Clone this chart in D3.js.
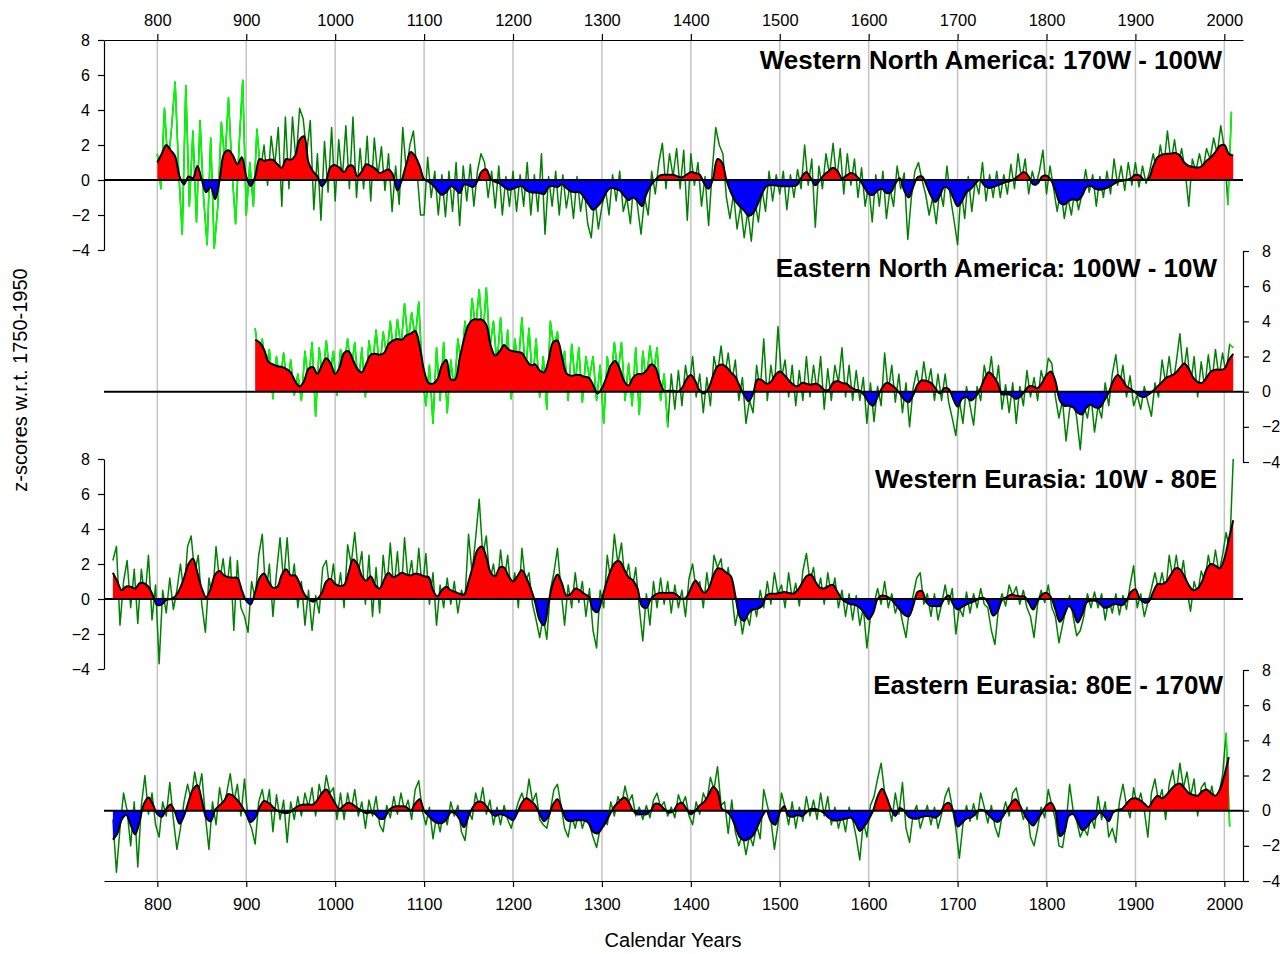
<!DOCTYPE html>
<html><head><meta charset="utf-8">
<script src="https://cdn.jsdelivr.net/npm/d3@7"></script>
<style>
body{margin:0;background:#fff}
svg{display:block}
text{font-family:"Liberation Sans",Arial,Helvetica,sans-serif}
</style>
</head><body>
<svg id="c" width="1280" height="954"></svg>
<script>
// ---------- tick labels / titles ----------
const xTicks = [800,900,1000,1100,1200,1300,1400,1500,1600,1700,1800,1900,2000];
const yTicks = [-4,-2,0,2,4,6,8];
const panelTitles = ["Western North America: 170W - 100W","Eastern North America: 100W - 10W","Western Eurasia: 10W - 80E","Eastern Eurasia: 80E - 170W"];
const xTitle = "Calendar Years";
const yTitle = "z-scores w.r.t. 1750-1950";

// ---------- Western North America ----------
const wnaSmoothStart = 800, smoothStep = 5;
const wnaSmooth = [1.0,1.5,2.0,1.7,1.35,0.2,-0.25,0.2,0.1,0.8,0.0,-0.7,-0.4,-1.1,0.0,1.5,1.7,1.4,0.9,1.3,
0.2,-0.35,0.2,1.2,1.1,1.15,1.15,0.9,0.7,1.2,1.15,1.4,2.3,2.5,1.0,0.5,0.2,-0.35,0.0,0.75,
0.85,0.7,0.45,0.8,0.8,0.2,0.5,0.9,0.8,0.65,0.4,0.5,0.6,0.3,-0.6,0.0,0.9,1.6,1.35,0.8,
0.05,-0.1,-0.3,-0.6,-0.85,-0.7,-0.35,-0.5,-0.75,-0.25,-0.3,-0.4,-0.05,0.5,0.6,0.05,-0.1,-0.2,-0.4,-0.55,
-0.5,-0.4,-0.35,-0.6,-0.7,-0.72,-0.75,-0.8,-0.4,-0.35,-0.4,-0.25,-0.45,-0.65,-0.7,-0.7,-1.0,-1.4,-1.7,-1.5,
-1.2,-0.7,-0.45,-0.5,-0.6,-0.9,-1.15,-1.0,-1.2,-1.5,-0.8,-0.3,0.0,0.25,0.3,0.3,0.3,0.2,0.15,0.3,
0.45,0.4,0.3,-0.2,-0.5,0.1,1.2,1.0,0.0,-0.7,-1.2,-1.5,-1.75,-2.05,-1.9,-1.4,-0.8,-0.35,-0.3,-0.3,
-0.35,-0.35,-0.35,-0.35,-0.25,0.2,0.45,0.1,-0.3,0.0,0.3,0.5,0.7,0.5,0.1,0.25,0.4,0.3,0.0,-0.4,
-0.8,-0.85,-0.6,-0.5,-0.75,-0.7,-0.2,0.1,-0.6,-1.0,-0.4,0.15,0.2,-0.3,-0.9,-1.25,-0.9,-0.4,-0.5,-1.0,
-1.5,-1.2,-0.7,-0.5,-0.2,0.0,-0.3,-0.45,-0.4,-0.3,-0.2,-0.1,-0.05,0.1,0.3,0.45,0.2,-0.25,-0.2,0.2,
0.25,0.0,-0.6,-1.3,-1.4,-1.2,-1.1,-1.15,-0.9,-0.4,-0.35,-0.5,-0.55,-0.5,-0.4,-0.25,-0.1,-0.05,0.0,0.1,
0.3,0.25,0.0,0.1,0.8,1.3,1.45,1.5,1.5,1.55,1.4,1.0,0.8,0.75,0.7,0.8,1.1,1.3,1.6,1.95,
2.0,1.5,1.4];
const wnaAnnualStart = 800, annualStep = 4;
const wnaAnnual = [1.5,-0.5,4.1,0.8,3.0,5.6,0.5,-3.1,5.4,-1.5,2.8,-2.4,3.4,-1.0,-3.7,2.4,-3.9,-1.5,3.3,1.0,4.7,0.5,-2.5,2.0,5.7,
-2.0,1.0,-1.5,2.9,0.5,2.0,-0.3,2.5,0.8,3.0,-1.5,3.6,-0.5,3.6,1.0,4.1,3.5,1.5,3.4,-1.7,1.5,-2.3,2.2,-0.7,3.0,
-1.2,2.3,0.0,3.1,-0.5,3.6,-1.0,1.8,-0.5,2.5,-1.2,2.4,0.2,1.9,-0.6,1.5,-1.8,0.8,-1.4,3.0,0.5,2.0,2.8,0.5,-2.0,
-2.0,1.3,-1.0,0.5,-2.0,0.3,-2.1,0.5,-1.8,1.0,-2.6,0.8,-1.2,0.9,-1.5,0.5,1.5,1.0,-1.0,0.5,-1.6,0.8,-2.0,0.2,-1.5,
0.5,-1.8,0.3,-1.5,1.0,-2.0,0.3,-1.8,1.5,-3.1,0.2,-1.5,0.5,-2.0,0.3,-1.6,-0.3,-2.2,0.2,-1.8,-0.5,-2.5,-3.3,-1.0,-2.8,
-1.5,-0.5,-2.0,0.3,-1.2,0.5,-1.8,-1.0,-2.5,0.0,-1.5,-3.1,-1.0,-2.0,0.5,-0.8,1.0,2.1,-0.5,1.5,0.2,1.8,-0.5,1.7,-2.3,
1.5,-0.3,1.0,-1.5,0.2,-2.6,0.5,3.0,2.0,1.5,-1.0,-2.2,-0.8,-2.8,-1.5,-3.3,-1.8,-3.5,-1.2,-2.4,-0.5,-1.8,0.5,-1.2,0.3,
-0.8,0.5,-1.7,0.3,-1.0,0.6,-0.5,2.0,-0.3,1.2,-2.7,0.8,-0.5,1.5,0.3,2.1,0.0,1.8,-0.8,1.5,-0.3,1.2,-1.0,0.7,-1.5,
-0.3,-2.4,0.3,-1.5,0.5,-2.2,-0.5,-1.5,0.8,-0.5,0.4,-3.4,-1.0,0.5,1.0,0.0,-0.8,-2.0,-1.0,-2.5,-0.5,-1.5,0.8,-1.0,-2.3,
-3.7,-0.5,-2.2,0.2,-1.8,0.0,-0.8,1.0,-1.2,0.3,-1.0,0.5,-1.0,0.3,-0.8,0.9,-0.5,1.5,0.0,1.2,-0.8,0.5,-0.3,0.5,1.7,
-0.8,0.8,-0.5,-1.8,-0.5,-2.2,-1.0,-2.0,-0.5,-1.7,-0.8,0.6,-0.7,0.3,-1.5,0.2,-1.0,0.5,-0.8,1.2,-0.3,0.8,-0.6,1.0,-0.3,
1.0,-0.4,0.8,-0.2,0.5,1.5,0.5,2.0,0.8,2.8,1.0,2.3,0.8,1.8,0.5,-1.5,1.2,0.5,1.5,0.6,1.8,1.2,2.4,1.5,3.1,
1.8,-1.4,3.9];
const wnaLimeSpans = [[800,912],[2005,2010]];

// ---------- Eastern North America ----------
const enaSmoothStart = 910;
const enaSmooth = [2.95,2.8,2.4,1.7,1.55,1.45,1.4,1.3,1.1,0.6,0.3,0.6,1.3,1.4,1.0,1.5,1.9,1.6,1.0,1.4,
2.2,2.3,1.8,1.3,1.1,1.6,2.1,2.15,2.1,2.2,2.7,2.9,3.0,2.95,3.2,3.3,3.45,2.6,1.2,0.5,
0.45,0.7,1.5,1.8,0.7,0.7,1.9,3.0,3.8,4.1,4.1,4.1,3.8,2.6,2.05,2.3,2.65,2.4,2.3,2.25,
2.2,1.8,1.5,1.55,1.2,1.1,1.8,2.8,2.9,2.0,1.05,0.9,0.95,0.95,0.85,0.8,0.4,-0.1,0.2,0.8,
1.5,1.75,1.3,0.6,0.35,0.8,1.0,1.0,1.2,1.55,1.4,0.6,0.05,0.05,0.05,0.0,0.2,0.7,0.95,0.6,
0.05,-0.1,0.2,0.9,1.45,1.55,1.4,1.1,0.85,0.3,-0.2,-0.55,-0.1,0.7,0.65,0.45,0.55,0.95,1.15,0.95,
0.65,0.4,0.3,0.5,0.45,0.4,0.45,0.35,0.1,0.1,0.5,0.6,0.5,0.45,0.25,0.12,0.05,-0.2,-0.6,-0.8,
-0.3,0.2,0.5,0.4,0.2,-0.1,-0.45,-0.6,-0.2,0.4,0.65,0.6,0.5,0.2,-0.1,0.2,0.15,-0.4,-0.85,-0.4,
-0.3,-0.5,-0.3,0.1,0.7,1.1,0.9,0.5,-0.15,-0.15,-0.2,-0.4,-0.3,0.0,0.3,0.3,0.2,0.5,0.95,1.15,
0.6,-0.5,-0.8,-0.8,-0.9,-1.2,-1.3,-0.9,-0.75,-0.9,-0.9,-0.5,-0.05,0.6,0.95,0.7,0.3,0.15,-0.05,-0.25,
-0.3,-0.15,0.05,0.3,0.55,0.8,0.9,1.05,1.35,1.6,1.3,0.8,0.55,0.5,0.8,1.15,1.25,1.25,1.3,1.8,
2.15];
const enaAnnualStart = 910;
const enaAnnual = [3.6,2.0,3.0,1.2,2.4,-0.4,2.0,0.5,2.2,0.3,1.8,-0.2,1.0,-0.5,2.3,0.5,2.8,-1.4,2.5,0.8,2.9,1.0,2.3,-0.2,2.4,
1.5,3.0,1.2,2.8,0.3,2.5,-0.3,2.9,1.5,3.5,1.2,3.4,2.0,4.0,2.0,4.1,2.5,5.0,2.8,4.5,3.0,5.1,1.0,-0.8,1.5,
-1.8,2.5,-0.5,2.8,-1.2,1.8,0.0,3.0,1.5,4.0,2.5,5.3,3.6,5.8,3.0,5.9,2.5,4.0,1.5,4.2,1.0,3.5,-0.4,3.0,1.5,
4.2,1.0,3.6,0.5,3.0,-0.3,2.0,-1.0,4.0,2.5,3.4,1.0,2.3,-0.5,2.7,0.5,2.5,-0.6,2.0,0.8,2.0,-0.5,1.5,-1.8,2.0,
0.5,2.8,1.0,2.8,-0.5,1.6,-0.8,2.5,-1.3,2.3,0.5,2.6,1.0,2.5,-0.5,1.0,-2.0,1.0,-1.0,1.2,-0.8,1.5,0.2,2.0,-0.3,
1.0,-1.2,0.8,-0.8,2.0,1.0,2.6,0.8,2.2,0.5,1.8,-0.5,0.8,-1.8,-0.5,-1.2,1.5,0.0,3.0,-0.5,1.5,0.2,3.7,0.8,1.8,
-0.3,1.5,-0.8,1.2,-0.5,2.0,-0.3,1.5,0.0,2.0,-1.0,1.3,-0.5,1.5,0.5,2.5,-0.3,1.5,-0.5,1.2,-0.5,0.8,-1.8,0.5,-1.7,
0.3,-0.8,2.2,0.0,1.5,-0.6,1.0,-1.2,0.5,-2.0,0.2,1.2,0.0,1.7,0.3,1.3,-0.5,1.0,-0.5,1.0,-0.6,-1.5,-2.5,-0.5,-1.8,
0.3,-0.8,-1.9,0.3,-0.5,1.5,0.5,2.0,0.0,1.5,-1.0,0.4,-1.2,0.5,-1.8,0.3,-0.8,1.2,-0.3,0.8,-0.5,1.2,0.4,1.9,1.6,
-0.3,-1.5,-0.5,-2.8,-1.0,-0.3,-1.5,-3.3,-0.8,-1.5,-0.2,-2.3,-0.8,-1.5,0.5,-0.8,1.0,2.1,0.3,1.5,-0.3,0.9,-0.8,-0.2,-1.0,
0.3,-0.6,-1.4,0.5,-0.3,1.8,0.5,2.0,0.3,1.7,3.3,1.0,2.5,0.3,2.0,-0.3,1.7,0.2,2.1,0.5,2.4,0.8,2.2,1.0,2.7,2.5];
const enaLimeSpans = [[910,1372],[2007,2010]];

// ---------- Western Eurasia ----------
const weuSmoothStart = 750;
const weuSmooth = [1.5,1.0,0.5,0.72,0.7,0.6,0.9,0.9,0.7,0.2,-0.35,-0.3,-0.05,0.0,0.15,0.55,1.2,2.0,2.3,1.5,
0.6,0.1,0.6,1.4,1.6,1.35,1.25,1.22,1.2,0.5,-0.1,-0.3,0.4,1.2,1.45,1.0,0.65,0.7,1.4,1.7,
1.35,1.35,0.9,0.3,0.0,-0.15,0.0,0.35,1.0,1.15,0.85,0.75,0.8,1.5,2.25,2.0,1.3,1.05,1.3,0.8,
0.6,1.1,1.5,1.25,1.35,1.5,1.4,1.35,1.45,1.4,1.3,1.25,0.5,0.15,0.5,0.7,0.5,0.4,0.3,0.25,
1.0,1.9,2.8,3.0,2.4,1.5,1.3,1.8,1.8,1.3,1.0,1.3,1.65,1.2,0.6,-0.2,-1.2,-1.5,-0.2,0.9,
1.4,0.9,0.2,0.3,0.6,0.5,0.3,0.15,-0.6,-0.75,0.0,0.9,1.65,2.1,2.15,1.7,1.25,1.05,0.6,-0.4,
-0.5,0.0,0.25,0.35,0.35,0.35,0.35,0.2,0.0,0.1,0.6,1.05,0.7,0.35,0.6,1.3,1.75,1.7,1.5,1.3,
0.2,-1.0,-1.25,-0.8,-0.6,-0.55,-0.4,0.2,0.3,0.3,0.35,0.4,0.35,0.3,0.5,0.9,1.3,1.4,1.0,0.65,
0.6,0.75,0.8,0.4,0.0,-0.2,-0.3,-0.35,-0.5,-0.8,-1.15,-0.8,0.0,0.2,0.15,0.0,-0.3,-0.6,-0.9,-1.0,
-0.4,0.4,0.45,-0.2,-0.4,-0.4,-0.4,0.0,0.2,-0.3,-0.6,-0.45,-0.3,-0.2,-0.1,0.05,0.05,-0.3,-0.95,-0.7,
-0.05,0.1,0.25,0.2,0.15,0.15,-0.2,-0.6,-0.1,0.25,0.35,0.1,-0.6,-1.3,-0.9,-0.4,-0.7,-1.35,-0.9,-0.2,
-0.1,-0.1,-0.25,-0.5,-0.45,-0.3,-0.3,-0.35,-0.1,0.4,0.55,0.0,-0.2,-0.15,0.4,0.85,0.85,1.0,1.4,1.75,
1.7,1.3,0.8,0.5,0.6,1.0,1.7,2.0,1.9,1.75,2.3,3.4,4.5];
const weuAnnualStart = 750;
const weuAnnual = [2.2,3.0,-1.5,1.0,2.2,-0.5,1.7,-1.4,1.7,0.0,2.5,-1.2,0.8,-3.7,0.5,-0.8,1.2,-0.6,0.5,2.0,0.3,3.0,3.6,1.5,2.5,
-0.3,-1.9,1.2,0.0,3.0,1.0,2.3,0.5,2.4,-1.8,2.2,-0.5,-1.0,-1.9,1.0,0.0,2.5,3.7,0.2,2.0,-1.0,1.5,3.5,1.0,3.5,
0.5,2.0,-0.5,1.0,-1.5,0.5,-1.8,0.2,-0.8,1.8,2.2,0.5,2.0,0.0,1.5,-0.5,3.1,2.0,3.8,1.5,2.7,-0.3,2.5,-1.0,1.8,
-0.8,2.5,0.5,3.2,0.5,2.7,0.0,3.5,1.0,2.2,0.3,2.9,0.5,2.6,-0.3,1.5,-1.5,0.8,-0.5,1.2,-0.3,1.0,-0.8,0.5,0.0,
3.7,1.5,3.5,5.7,2.5,3.6,1.0,2.0,0.5,2.8,1.0,2.5,0.2,1.5,-0.5,2.9,1.0,1.5,-0.3,-1.2,-2.2,-1.0,-2.3,0.5,1.5,
2.9,0.5,-1.5,0.8,-0.5,1.5,-0.2,1.0,-1.0,0.6,-1.8,-2.8,0.5,-0.5,2.5,1.0,3.7,2.0,3.2,1.0,2.0,0.5,1.8,-0.5,-2.4,
0.3,-1.5,1.0,-0.5,1.2,-0.3,1.0,-0.8,0.8,-0.5,0.5,-1.0,1.2,2.0,0.5,1.0,-0.5,1.5,0.0,2.5,1.8,2.3,0.5,1.8,0.3,
-1.5,-0.5,-2.0,-0.8,-1.5,0.0,-1.0,0.5,-0.5,1.0,-0.3,1.5,0.3,0.8,-0.5,1.5,0.0,0.9,-0.4,1.6,2.6,1.0,1.8,0.2,1.2,
-0.3,1.5,0.2,1.2,-0.5,0.5,-1.0,0.3,-1.2,0.2,-1.5,-0.5,-2.8,-1.0,-0.3,0.6,-0.3,1.0,-0.5,0.3,-0.8,-0.2,-1.3,-2.2,-0.5,
0.2,1.2,1.5,-0.3,0.3,-1.0,0.3,-1.2,-0.3,0.8,-0.3,0.6,-2.0,-0.5,-1.0,0.4,-0.8,0.3,-0.5,0.6,-0.3,-0.5,-1.8,-2.6,-0.5,
0.3,-0.4,0.8,0.2,0.7,-0.3,0.5,-0.5,-1.0,-2.2,-0.3,0.5,-0.2,0.8,-0.5,-1.0,-2.5,-1.5,-0.5,0.2,-1.0,-2.1,-1.8,-1.0,0.3,
-0.5,0.4,-0.5,0.3,-1.2,0.0,-0.8,0.3,-0.9,0.2,-0.6,0.8,1.9,-0.5,0.3,-1.0,-0.2,0.6,1.5,0.5,1.5,0.4,2.5,1.2,2.5,
1.0,2.2,0.5,-0.7,1.0,0.3,1.6,1.0,2.5,1.4,2.8,1.5,2.5,3.8,2.8,8.0];
const weuLimeSpans = [];

// ---------- Eastern Eurasia ----------
const eeuSmoothStart = 750;
const eeuSmooth = [-1.65,-1.3,-0.5,-0.25,-0.8,-1.35,-0.6,0.4,0.75,0.35,-0.2,-0.35,0.1,0.35,-0.1,-0.75,-0.3,0.5,1.2,1.45,
0.6,-0.4,-0.6,0.05,0.3,0.55,0.95,0.85,0.6,0.25,-0.2,-0.65,-0.4,0.2,0.55,0.45,0.2,0.0,-0.1,-0.15,
-0.05,0.15,0.3,0.35,0.35,0.35,0.6,1.0,1.2,0.85,0.4,0.1,0.3,0.45,0.35,0.15,0.0,-0.15,-0.1,-0.2,
-0.45,-0.45,0.0,0.2,0.25,0.25,0.2,0.0,0.4,0.65,0.0,-0.3,-0.55,-0.7,-0.7,-0.5,-0.1,-0.15,-0.5,-0.95,
-0.3,0.2,0.5,0.5,0.25,-0.1,-0.3,-0.2,-0.25,-0.4,-0.55,-0.1,0.45,0.7,0.55,0.3,-0.2,-0.6,-0.3,0.35,
0.65,0.1,-0.5,-0.6,-0.55,-0.55,-0.55,-0.7,-1.2,-1.3,-1.0,-0.6,-0.1,0.3,0.55,0.75,0.5,0.0,-0.2,-0.2,
-0.2,0.0,0.4,0.35,0.1,-0.1,-0.05,0.35,0.45,0.1,-0.2,0.0,0.3,0.5,0.9,1.35,1.1,0.1,-0.05,-0.3,
-0.9,-1.5,-1.7,-1.6,-1.4,-0.9,-0.35,0.0,-0.6,-0.8,-0.1,0.25,-0.3,-0.35,-0.25,-0.3,-0.1,0.1,0.1,0.0,
-0.15,-0.4,-0.55,-0.55,-0.5,-0.45,-0.4,-0.7,-1.15,-0.9,-0.5,0.0,0.8,1.25,0.8,0.1,-0.3,0.15,0.0,-0.35,
-0.45,-0.45,-0.35,-0.3,-0.32,-0.4,-0.2,0.3,0.45,0.0,-0.9,-0.7,-0.45,-0.4,-0.2,0.05,0.0,-0.25,-0.5,-0.65,
-0.4,0.0,0.4,0.65,0.3,-0.2,-0.6,-0.85,-0.5,-0.1,0.3,0.45,0.0,-1.45,-1.2,-0.3,-0.2,-0.6,-1.1,-0.95,
-0.6,-0.4,-0.1,-0.3,-0.6,-0.1,0.05,0.1,0.4,0.65,0.7,0.6,0.4,0.2,0.6,0.85,0.7,0.9,1.2,1.45,
1.55,1.3,1.0,0.9,0.85,1.1,1.2,1.0,0.85,1.2,2.0,3.05];
const eeuAnnualStart = 750;
const eeuAnnual = [-0.5,-3.5,-1.0,1.0,0.0,-2.0,0.5,-3.2,0.3,2.0,-0.2,1.0,-0.8,-1.5,0.5,-0.3,1.6,-0.5,-2.2,-1.0,0.5,1.5,0.6,2.2,1.0,
2.1,-0.3,-2.2,0.5,-0.8,1.3,0.2,1.0,2.1,0.5,1.5,-0.3,1.8,-0.5,-1.0,-1.9,0.5,1.2,0.0,1.2,-1.2,0.9,-0.5,0.6,-1.8,
0.5,-0.5,0.8,-0.3,1.0,0.2,1.3,-0.3,1.5,0.5,2.0,1.0,1.3,-0.5,1.0,-0.5,1.0,0.0,1.2,-0.3,0.5,-1.0,0.6,-0.3,0.8,
-0.8,-1.2,0.3,-0.4,0.8,-0.2,1.0,0.0,0.6,-0.5,1.2,1.7,0.0,-0.8,0.2,-1.6,-0.3,-1.2,0.0,-0.8,0.5,-0.3,0.3,-1.2,-1.7,
0.0,-0.5,1.0,0.2,1.3,-0.2,0.6,-0.8,0.2,-0.8,0.3,-0.5,-1.0,-0.2,0.5,1.0,0.3,1.8,0.5,1.0,-0.5,-0.8,-1.0,0.0,1.2,
1.5,0.3,-1.0,-1.5,-0.3,-1.0,0.0,-1.0,-0.3,-0.8,-1.5,-2.1,-1.0,-0.3,-0.8,0.5,-0.3,0.8,0.3,1.4,0.5,0.9,-0.3,0.2,-0.5,
0.3,-0.4,0.6,1.0,0.2,0.5,-0.3,0.2,-0.4,0.9,0.3,0.8,-0.3,-0.8,0.5,-0.2,1.0,0.5,1.9,1.2,2.5,0.3,0.5,-1.3,0.6,
-1.2,-2.0,-1.3,-2.5,-1.4,-2.0,-0.8,-1.6,1.2,0.3,-0.5,-2.2,-0.8,1.0,0.2,-0.8,0.5,-1.0,0.2,-0.6,0.8,-0.3,0.6,-0.5,1.0,
-0.3,0.8,-0.8,0.2,-1.0,-0.2,-1.2,0.2,-0.5,-1.5,-2.8,-0.6,-1.5,0.3,0.8,1.8,2.7,1.0,0.3,-0.6,1.0,-0.2,1.6,-1.0,-1.8,
-0.2,0.3,-1.0,-0.3,0.3,-0.8,0.2,-1.0,-0.2,0.8,1.3,0.2,-1.0,-2.7,-0.8,0.3,-0.6,0.4,-0.5,1.0,0.2,-0.7,0.3,-0.9,-1.5,
-0.3,0.5,-0.3,1.0,1.3,0.3,-0.5,0.2,-1.5,-2.0,-1.0,0.2,-0.4,1.2,0.3,-0.5,-2.0,-2.1,-0.8,1.5,0.0,-0.6,-1.5,-1.0,-1.4,
-0.3,-1.0,0.8,-0.5,0.5,-1.5,-1.0,-1.8,0.5,1.5,0.3,-0.4,1.3,0.3,1.0,0.0,-1.5,1.0,1.8,0.5,1.2,-0.5,1.5,2.3,1.0,
2.7,1.3,2.2,0.8,1.8,-0.3,1.3,1.6,0.5,1.4,0.2,1.0,2.0,4.4,-0.9];
const eeuLimeSpans = [[2005,2006]];

// ---------- layout ----------
const W = 1280, H = 954;
const FONT = '"Liberation Sans",Arial,sans-serif';
const svg = d3.select("#c");
const x = d3.scaleLinear().domain([740, 2021]).range([104, 1243]);
const plotTop = 40, plotBottom = 881;

const panels = [
  {title: panelTitles[0], smooth: wnaSmooth, sStart: wnaSmoothStart, annual: wnaAnnual, aStart: wnaAnnualStart, lime: wnaLimeSpans, range: [250, 40], side: "left", tx: 1222, ty: 69},
  {title: panelTitles[1], smooth: enaSmooth, sStart: enaSmoothStart, annual: enaAnnual, aStart: enaAnnualStart, lime: enaLimeSpans, range: [462, 251], side: "right", tx: 1217, ty: 277},
  {title: panelTitles[2], smooth: weuSmooth, sStart: weuSmoothStart, annual: weuAnnual, aStart: weuAnnualStart, lime: weuLimeSpans, range: [669, 459], side: "left", tx: 1217, ty: 488},
  {title: panelTitles[3], smooth: eeuSmooth, sStart: eeuSmoothStart, annual: eeuAnnual, aStart: eeuAnnualStart, lime: eeuLimeSpans, range: [881, 670], side: "right", tx: 1223, ty: 694}
];

// gridlines
svg.append("g").selectAll("line").data(xTicks).join("line")
  .attr("x1", d => x(d)).attr("x2", d => x(d))
  .attr("y1", plotTop).attr("y2", plotBottom)
  .attr("stroke", "#c4c4c4").attr("stroke-width", 1.5);

const defs = svg.append("defs");

panels.forEach((p, i) => {
  const y = d3.scaleLinear().domain([-4, 8]).range(p.range);
  const y0 = y(0);
  const g = svg.append("g");
  const sPts = p.smooth.map((v, k) => [p.sStart + k * smoothStep, v]);
  const aPts = p.annual.map((v, k) => [p.aStart + k * annualStep, v]);
  const line = d3.line().x(d => x(d[0])).y(d => y(d[1]));

  // annual series
  g.append("path").attr("d", line(aPts)).attr("fill", "none")
    .attr("stroke", "#008000").attr("stroke-width", 1.5).attr("stroke-linejoin", "round");
  p.lime.forEach(([a, b]) => {
    const sub = aPts.filter(d => d[0] >= a - annualStep && d[0] <= b + annualStep);
    g.append("path").attr("d", line(sub)).attr("fill", "none")
      .attr("stroke", "#00ff00").attr("stroke-width", 1.5).attr("stroke-linejoin", "round");
  });

  // clip regions
  defs.append("clipPath").attr("id", "up" + i).append("rect")
    .attr("x", 0).attr("y", 0).attr("width", W).attr("height", y0);
  defs.append("clipPath").attr("id", "dn" + i).append("rect")
    .attr("x", 0).attr("y", y0).attr("width", W).attr("height", H - y0);

  const curve = d3.curveCatmullRom.alpha(0.5);
  const area = d3.area().x(d => x(d[0])).y0(y0).y1(d => y(d[1])).curve(curve);
  g.append("path").attr("d", area(sPts)).attr("fill", "#ff0000").attr("clip-path", `url(#up${i})`);
  g.append("path").attr("d", area(sPts)).attr("fill", "#0000ff").attr("clip-path", `url(#dn${i})`);
  g.append("path").attr("d", d3.line().x(d => x(d[0])).y(d => y(d[1])).curve(curve)(sPts))
    .attr("fill", "none").attr("stroke", "#000").attr("stroke-width", 2);

  // zero line
  g.append("line").attr("x1", 104).attr("x2", 1243).attr("y1", y0).attr("y2", y0)
    .attr("stroke", "#000").attr("stroke-width", 2);

  // y axis
  const ax = p.side === "left"
    ? d3.axisLeft(y).tickValues(yTicks).tickSize(6).tickSizeOuter(0).tickPadding(8)
    : d3.axisRight(y).tickValues(yTicks).tickSize(6).tickSizeOuter(0).tickPadding(13);
  const ag = svg.append("g").attr("transform", `translate(${p.side === "left" ? 104 : 1243},0)`).call(ax);
  ag.selectAll("text").attr("font-size", 16).attr("fill", "#000").attr("font-family", FONT);
  ag.selectAll("path,line").attr("stroke", "#000").attr("stroke-width", 1.2);

  // title
  svg.append("text").attr("x", p.tx).attr("y", p.ty).attr("text-anchor", "end")
    .attr("font-size", 26).attr("font-weight", "bold").attr("fill", "#000").text(p.title);
});

// x axes
const topAx = svg.append("g").attr("transform", `translate(0,${plotTop})`)
  .call(d3.axisTop(x).tickValues(xTicks).tickFormat(d3.format("d")).tickSize(6).tickSizeOuter(0).tickPadding(8));
const botAx = svg.append("g").attr("transform", `translate(0,${plotBottom})`)
  .call(d3.axisBottom(x).tickValues(xTicks).tickFormat(d3.format("d")).tickSize(6).tickSizeOuter(0).tickPadding(11));
[topAx, botAx].forEach(a => {
  a.selectAll("text").attr("font-size", 16.5).attr("fill", "#000").attr("font-family", FONT);
  a.selectAll("path,line").attr("stroke", "#000").attr("stroke-width", 1.2);
});

// axis titles
svg.append("text").attr("x", 673).attr("y", 947).attr("text-anchor", "middle")
  .attr("font-size", 20).attr("fill", "#000").text(xTitle);
svg.append("text").attr("transform", "translate(27,380) rotate(-90)").attr("text-anchor", "middle")
  .attr("font-size", 20).attr("fill", "#000").text(yTitle);
</script>
</body></html>
